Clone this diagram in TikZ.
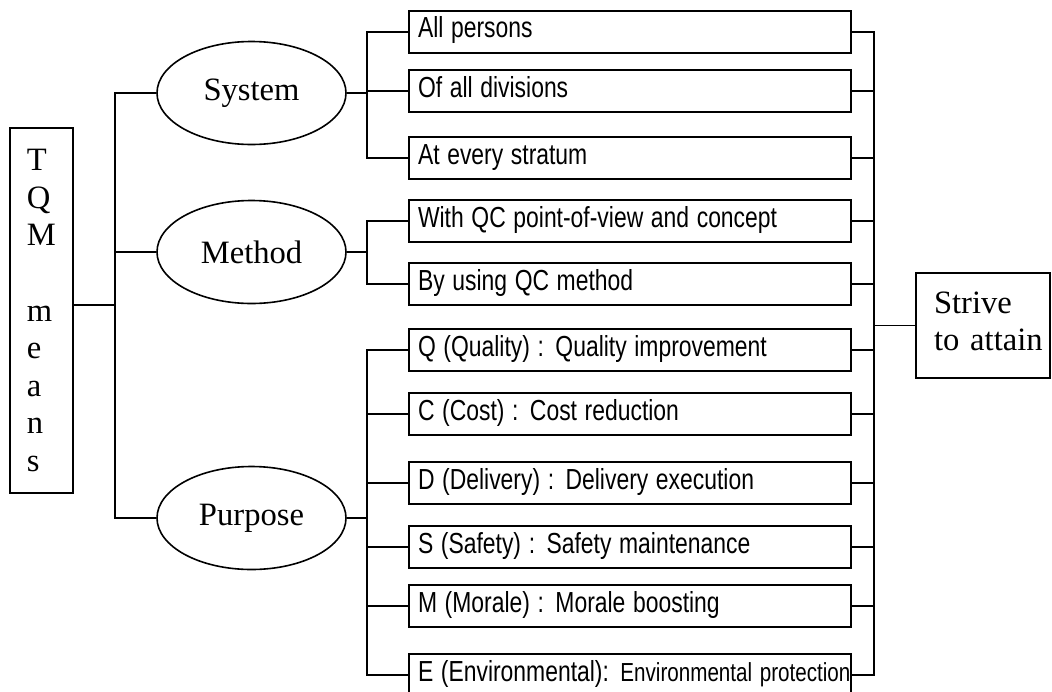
\documentclass[tikz,border=0pt]{standalone}
\usepackage{fontspec}
\usepackage{graphicx}
\setmainfont{Liberation Serif}
\newfontfamily\boxfont{Liberation Sans}
\newcommand{\narrowtxt}[1]{\scalebox{0.79}[1]{#1}}
\usetikzlibrary{shapes.geometric}
\begin{document}
\begin{tikzpicture}[x=1pt,y=-1pt,line width=1.6pt,
  item/.style={draw, rectangle, minimum width=442pt, minimum height=42pt,
    inner xsep=9pt, inner ysep=0pt, text width=424pt, align=left,
    text height=27pt, text depth=15pt,
    font=\boxfont\fontsize{29}{34}\selectfont},
  oval/.style={draw, ellipse, minimum width=189pt, minimum height=103pt,
    inner sep=0pt, font=\fontsize{32.6}{38}\selectfont},
  tall/.style={draw, rectangle, minimum width=63pt, minimum height=365pt,
    inner xsep=17pt, inner ysep=0pt, text width=29pt, align=left,
    font=\fontsize{32.6}{37.6}\selectfont},
  goalbox/.style={draw, rectangle, minimum height=105pt, inner xsep=18pt,
    text width=98pt, align=left, font=\fontsize{32.6}{38}\selectfont}]
\useasboundingbox (0,0) rectangle (1052,691);
\clip (0,0) rectangle (1052,691);

\node[tall] (tqm) at (41.5,310.5) {T\\Q\\M\\[37.6pt]m\\e\\a\\n\\s};

\node[oval] (sys)  at (251.5,93)  {System};
\node[oval] (meth) at (251.5,252) {Method};
\node[oval] (pur)  at (251.5,518) {Purpose};

\node[item] (b1)  at (630,31.7) {\narrowtxt{All persons}};
\node[item] (b2)  at (630,91)   {\narrowtxt{Of all divisions}};
\node[item] (b3)  at (630,158)  {\narrowtxt{At every stratum}};
\node[item] (b4)  at (630,221)  {\narrowtxt{With QC point-of-view and concept}};
\node[item] (b5)  at (630,284)  {\narrowtxt{By using QC method}};
\node[item] (b6)  at (630,350)  {\narrowtxt{Q (Quality) : Quality improvement}};
\node[item] (b7)  at (630,414)  {\narrowtxt{C (Cost) : Cost reduction}};
\node[item] (b8)  at (630,483)  {\narrowtxt{D (Delivery) : Delivery execution}};
\node[item] (b9)  at (630,547)  {\narrowtxt{S (Safety) : Safety maintenance}};
\node[item] (b10) at (630,606)  {\narrowtxt{M (Morale) : Morale boosting}};
\node[item] (b11) at (630,675)  {\narrowtxt{E (Environmental): {\fontsize{26.1}{34}\selectfont Environmental protection}}};

\node[goalbox] (goal) at (983,325.5) {\mbox{Strive}\\[-0.5pt]\mbox{to attain}\vspace{8pt}};

\coordinate (busL) at (115,305);
\coordinate (busS) at (367,0);
\coordinate (busR) at (874,0);

\draw ([yshift=5.5pt]tqm.east) -- ([yshift=5.5pt]tqm.east -| busL);
\draw (sys.west) -- (sys.west -| busL) |- (pur.west);
\draw (meth.west) -- (meth.west -| busL);

\draw (sys.east) -- (sys.east -| busS);
\draw (b1.west) -- (b1.west -| busS) |- (b3.west);
\draw (b2.west) -- (b2.west -| busS);

\draw (meth.east) -- (meth.east -| busS);
\draw (b4.west) -- (b4.west -| busS) |- (b5.west);

\draw (pur.east) -- (pur.east -| busS);
\draw (b6.west) -- (b6.west -| busS) |- (b11.west);
\foreach \i in {7,...,10} \draw (b\i.west) -- (b\i.west -| busS);

\draw (b1.east) -- (b1.east -| busR) |- (b11.east);
\foreach \i in {2,...,10} \draw (b\i.east) -- (b\i.east -| busR);
\draw (goal.west) -- (goal.west -| busR);
\end{tikzpicture}
\end{document}
